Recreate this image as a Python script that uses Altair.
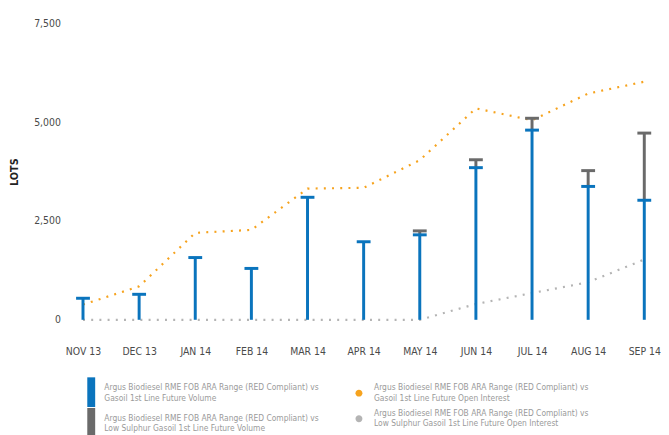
import altair as alt
import pandas as pd

months = ["NOV 13", "DEC 13", "JAN 14", "FEB 14", "MAR 14", "APR 14",
          "MAY 14", "JUN 14", "JUL 14", "AUG 14", "SEP 14"]
gasoil_volume = [545, 645, 1575, 1300, 3100, 1975, 2150, 3850, 4800, 3375, 3025]
lsgo_volume = [0, 0, 0, 0, 0, 0, 100, 200, 300, 400, 1700]
gasoil_oi = [385, 845, 2200, 2275, 3320, 3340, 4040, 5350, 5050, 5725, 6025]
lsgo_oi = [0, 0, 0, 0, 0, 0, 0, 400, 675, 950, 1525]

prefix = "Argus Biodiesel RME FOB ARA Range (RED Compliant) vs|"
vol_names = [prefix + "Gasoil 1st Line Future Volume",
             prefix + "Low Sulphur Gasoil 1st Line Future Volume"]
oi_names = [prefix + "Gasoil 1st Line Future Open Interest",
            prefix + "Low Sulphur Gasoil 1st Line Future Open Interest"]
vol_colors = ["#0a74bd", "#6a6a6a"]
oi_colors = ["#f6a31e", "#b4b4b4"]

FONT = "DejaVu Sans Condensed, sans-serif"

rows = []
for m, g, l in zip(months, gasoil_volume, lsgo_volume):
    rows.append({"month": m, "series": vol_names[0], "lo": 0, "hi": g})
    if l > 0:
        rows.append({"month": m, "series": vol_names[1], "lo": g, "hi": g + l})
vol_df = pd.DataFrame(rows)

oi_rows = []
for m, a, b in zip(months, gasoil_oi, lsgo_oi):
    oi_rows.append({"month": m, "series": oi_names[0], "value": a})
    oi_rows.append({"month": m, "series": oi_names[1], "value": b})
oi_df = pd.DataFrame(oi_rows)

x = alt.X("month:N", sort=months, title=None,
          scale=alt.Scale(type="point", padding=0.245),
          axis=alt.Axis(labelAngle=0, labelPadding=27, ticks=False, domain=False,
                        grid=False, labelFont=FONT, labelFontSize=10.5,
                        labelColor="#4a4a4a"))

y_axis = alt.Axis(values=[0, 2500, 5000, 7500], format=",.0f", grid=False,
                  domain=False, ticks=False, labelPadding=9,
                  labelFont=FONT, labelFontSize=10.5, labelColor="#4a4a4a",
                  titleFont=FONT, titleFontSize=11, titleColor="#222222",
                  titleFontWeight="bold", titlePadding=14)
y_scale = alt.Scale(domain=[0, 7500], nice=False)

stroke_scale = alt.Scale(domain=vol_names + oi_names, range=vol_colors + oi_colors)

lines = alt.Chart(oi_df).mark_line(strokeWidth=2.2, strokeDash=[2, 6.3], strokeCap="butt").encode(
    x=x,
    y=alt.Y("value:Q", scale=y_scale, title="LOTS", axis=y_axis),
    stroke=alt.Stroke("series:N", scale=stroke_scale, legend=None),
    detail="series:N",
)

legend_pts = alt.Chart(oi_df).mark_circle(size=0).encode(
    x=x,
    y=alt.Y("value:Q", scale=y_scale, title="LOTS", axis=y_axis),
    fill=alt.Fill("series:N", scale=alt.Scale(domain=oi_names, range=oi_colors),
                  legend=alt.Legend(orient="none", legendX=289, legendY=364,
                                    title=None,
                                    symbolType="M-3.5,6A3.5,3.5 0 1,0 3.5,6A3.5,3.5 0 1,0 -3.5,6Z",
                                    symbolSize=4,
                                    symbolOpacity=1, symbolStrokeWidth=0,
                                    labelExpr="split(datum.label, '|')",
                                    labelFont=FONT, labelFontSize=8.5,
                                    labelColor="#9a9a9a", labelLimit=400,
                                    labelOffset=11, rowPadding=6)),
)

rules = alt.Chart(vol_df).mark_rule(strokeWidth=3).encode(
    x=x,
    y=alt.Y("lo:Q", scale=y_scale, title="LOTS", axis=y_axis),
    y2="hi:Q",
    stroke=alt.Stroke("series:N", scale=stroke_scale, legend=None),
)

caps = alt.Chart(vol_df).mark_tick(size=14, thickness=3, opacity=1).encode(
    x=x,
    y=alt.Y("hi:Q", scale=y_scale, title="LOTS", axis=y_axis),
    color=alt.Color("series:N", scale=alt.Scale(domain=vol_names, range=vol_colors),
                    legend=alt.Legend(orient="none", legendX=14, legendY=364,
                                      title=None,
                                      symbolType="M0,-10H8V20H0Z",
                                      symbolSize=4, symbolOpacity=1,
                                      symbolStrokeWidth=0,
                                      labelExpr="split(datum.label, '|')",
                                      labelFont=FONT, labelFontSize=8.5,
                                      labelColor="#9a9a9a", labelLimit=400,
                                      labelOffset=13, rowPadding=0)),
)

chart = alt.layer(lines, legend_pts, rules, caps).resolve_scale(
    color="independent", fill="independent"
).properties(
    width=596, height=300,
    autosize=alt.AutoSizeParams(type="none"),
    padding={"left": 62, "top": 13, "right": 3, "bottom": 114},
).configure_view(stroke=None)

chart.save("out.html", embed_options={"renderer": "svg", "actions": False})
